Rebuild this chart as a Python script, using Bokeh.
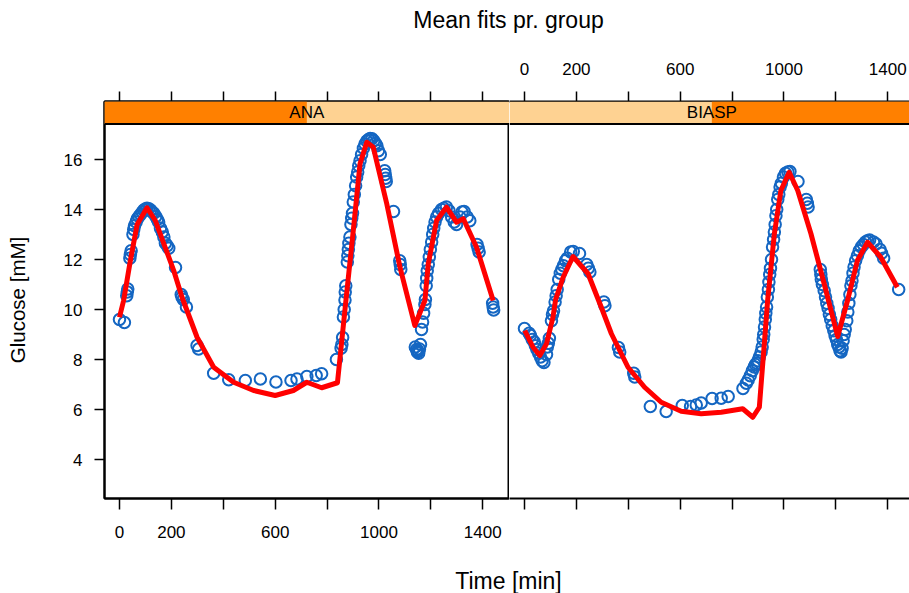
from bokeh.plotting import figure
from bokeh.layouts import column, row
from bokeh.models import Range1d, FixedTicker, LinearAxis, Span, BoxAnnotation, Label
from bokeh.embed import file_html
from bokeh.resources import INLINE

FONT = "Liberation Sans"

# ---------------- data ----------------
groups = ["ANA", "BIASP"]
title_text = "Mean fits pr. group"
x_label = "Time [min]"
y_label = "Glucose [mM]"
x_ticks = [0, 200, 400, 600, 800, 1000, 1200, 1400]
x_tick_labels = ["0", "200", "", "600", "", "1000", "", "1400"]
y_ticks = [4, 6, 8, 10, 12, 14, 16]

ana_time = [0, 19, 28, 30, 32, 40, 42, 45, 52, 55, 58, 64, 68, 75, 81, 88, 94, 100, 106, 113,
            120, 126, 132, 140, 146, 151, 158, 165, 171, 177, 184, 190, 216, 238, 241, 246, 258,
            299, 305, 363, 421, 485, 543, 603, 661, 684, 722, 758, 779, 836, 854, 857, 860, 863,
            866, 869, 870, 872, 878, 880, 882, 884, 888, 892, 895, 898, 901, 905, 910, 914, 918,
            922, 927, 933, 940, 946, 953, 960, 966, 973, 980, 986, 992, 998, 1005, 1022, 1024,
            1026, 1028, 1056, 1080, 1082, 1084, 1140, 1145, 1148, 1150, 1153, 1156, 1160, 1164,
            1168, 1172, 1177, 1179, 1182, 1184, 1186, 1190, 1194, 1198, 1203, 1207, 1211, 1216,
            1222, 1230, 1241, 1250, 1260, 1270, 1280, 1290, 1299, 1312, 1320, 1328, 1340, 1350,
            1378, 1382, 1386, 1438, 1440, 1442]
ana_glucose = [9.60, 9.48, 10.55, 10.70, 10.82, 12.05, 12.20, 12.35, 13.00, 13.20, 13.35, 13.50,
               13.62, 13.72, 13.80, 13.90, 13.98, 14.02, 14.05, 14.03, 13.98, 13.90, 13.85, 13.72,
               13.60, 13.50, 13.25, 13.10, 12.90, 12.65, 12.55, 12.45, 11.68, 10.60, 10.50, 10.40,
               10.10, 8.56, 8.42, 7.45, 7.19, 7.16, 7.22, 7.10, 7.16, 7.22, 7.32, 7.36, 7.43, 8.00,
               8.45, 8.60, 8.88, 9.70, 10.00, 10.38, 10.70, 10.95, 11.90, 12.15, 12.40, 12.65,
               12.90, 13.40, 13.65, 13.85, 14.30, 14.60, 14.95, 15.30, 15.50, 15.75, 15.95, 16.20,
               16.45, 16.62, 16.74, 16.80, 16.84, 16.83, 16.75, 16.65, 16.55, 16.35, 16.20, 15.55,
               15.40, 15.25, 15.12, 13.92, 11.95, 11.80, 11.60, 8.50, 8.40, 8.30, 8.35, 8.25, 8.42,
               8.60, 9.20, 9.50, 9.85, 10.20, 10.40, 10.95, 11.25, 11.55, 11.80, 12.10, 12.40,
               12.70, 13.00, 13.25, 13.50, 13.70, 13.85, 14.00, 14.05, 14.10, 13.95, 13.70, 13.50,
               13.40, 13.70, 13.90, 13.92, 13.70, 13.55, 12.60, 12.45, 12.30, 10.25, 10.10, 9.98]

biasp_time = [0, 18, 23, 30, 38, 42, 48, 55, 62, 68, 75, 85, 88, 92, 96, 104, 108, 112, 118, 122,
              126, 132, 138, 144, 150, 158, 165, 178, 188, 212, 240, 246, 252, 306, 310, 362, 367,
              421, 425, 485, 546, 608, 640, 662, 681, 723, 758, 785, 842, 855, 862, 870, 878, 885,
              890, 896, 900, 905, 912, 916, 920, 922, 925, 928, 930, 933, 936, 940, 942, 945, 948,
              952, 956, 960, 963, 966, 969, 972, 976, 980, 985, 990, 998, 1006, 1015, 1023, 1054,
              1086, 1090, 1093, 1140, 1142, 1144, 1148, 1155, 1160, 1165, 1170, 1175, 1180, 1186,
              1192, 1197, 1202, 1207, 1212, 1216, 1220, 1224, 1228, 1232, 1236, 1242, 1246, 1250,
              1254, 1258, 1262, 1266, 1270, 1276, 1283, 1290, 1298, 1306, 1314, 1322, 1330, 1345,
              1355, 1370, 1376, 1384, 1442]
biasp_glucose = [9.24, 9.05, 8.96, 8.80, 8.70, 8.55, 8.40, 8.25, 8.10, 7.95, 7.88, 8.20, 8.50,
                 8.65, 8.85, 9.55, 9.80, 9.95, 10.30, 10.55, 10.80, 11.20, 11.45, 11.60, 11.75,
                 11.95, 12.05, 12.30, 12.32, 12.24, 11.80, 11.65, 11.50, 10.30, 10.15, 8.48, 8.30,
                 7.45, 7.30, 6.12, 5.92, 6.16, 6.12, 6.18, 6.26, 6.44, 6.45, 6.52, 6.84, 7.05, 7.18,
                 7.35, 7.55, 7.70, 7.80, 7.85, 7.95, 8.10, 8.30, 8.50, 8.80, 9.00, 9.30, 9.60, 9.85,
                 10.10, 10.50, 10.80, 11.10, 11.40, 11.65, 12.00, 12.50, 12.80, 13.10, 13.40, 13.75,
                 14.00, 14.40, 14.60, 14.90, 15.05, 15.30, 15.45, 15.50, 15.52, 15.12, 14.40, 14.25,
                 14.10, 11.60, 11.40, 11.20, 11.00, 10.75, 10.50, 10.25, 10.05, 9.80, 9.60, 9.35,
                 9.15, 8.95, 8.80, 8.60, 8.50, 8.35, 8.30, 8.45, 8.75, 9.00, 9.20, 9.55, 9.90, 10.25,
                 10.60, 10.95, 11.15, 11.45, 11.70, 11.95, 12.15, 12.35, 12.50, 12.60, 12.70, 12.75,
                 12.78, 12.70, 12.62, 12.40, 12.25, 12.05, 10.80]

ana_fit_time = [0, 16, 42, 68, 106, 138, 171, 209, 241, 299, 363, 440, 517, 600, 670, 722, 779,
                840, 872, 901, 927, 953, 978, 1030, 1081, 1138, 1177, 1190, 1222, 1260, 1299,
                1325, 1376, 1440]
ana_fit_glucose = [9.69, 10.36, 11.96, 13.40, 14.07, 13.56, 12.63, 11.56, 10.49, 8.89, 7.69,
                   7.09, 6.76, 6.56, 6.76, 7.09, 6.87, 7.07, 10.30, 13.16, 15.83, 16.69, 16.49,
                   14.23, 11.69, 9.36, 10.36, 11.83, 13.56, 14.09, 13.49, 13.63, 12.49, 10.36]

biasp_fit_time = [1, 33, 59, 85, 110, 120, 149, 187, 245, 296, 335, 354, 399, 463, 527, 604, 681,
                  758, 841, 880, 905, 924, 937, 963, 988, 1020, 1053, 1104, 1155, 1207, 1245,
                  1283, 1322, 1373, 1437]
biasp_fit_glucose = [9.16, 8.49, 8.16, 8.63, 9.70, 10.40, 11.29, 12.12, 11.43, 10.09, 9.03, 8.63,
                     7.69, 6.89, 6.29, 5.93, 5.83, 5.89, 6.03, 5.69, 6.09, 8.60, 10.36, 13.03,
                     14.76, 15.49, 14.76, 13.03, 11.03, 8.92, 10.36, 11.96, 12.69, 12.09, 10.89]

# ---------------- style ----------------
BLUE = "#1466c2"
RED = "#ff0000"
STRIP_LIGHT = "#fed292"
STRIP_DARK = "#ff8000"
X_START = -57.7
PX_PER_UNIT = 0.2595
Y_START, Y_END = 2.44, 18.32
STRIP_BOTTOM = 17.42
STRIP_MID = 722
TICK_FS = "17px"
LINE_W = 2

TOTAL_W = 909
LEFT_BORDER = 104
LEFT_FRAME = 405
LEFT_W = LEFT_BORDER + LEFT_FRAME
RIGHT_W = TOTAL_W - LEFT_W
TITLE_H = 44
MAIN_H = 504
BOTTOM_H = 45
TOP_B, BOT_B = 57, 50


def no_grid(p):
    for g in p.xgrid + p.ygrid:
        g.visible = False


def style_axis(ax, standoff):
    ax.axis_line_color = "black"
    ax.axis_line_width = LINE_W
    ax.major_tick_line_color = "black"
    ax.major_tick_line_width = 1.5
    ax.major_tick_in = 0
    ax.major_tick_out = 10
    ax.minor_tick_line_color = None
    ax.major_label_text_font = FONT
    ax.major_label_text_font_size = TICK_FS
    ax.major_label_text_color = "black"
    ax.major_label_standoff = standoff


def make_panel(idx, t, g, ft, fg, width, frame_w, left_border, show_y, top_labels, bottom_labels):
    x_end = X_START + frame_w / PX_PER_UNIT
    p = figure(width=width, height=MAIN_H, x_range=Range1d(X_START, x_end),
               y_range=Range1d(Y_START, Y_END), output_backend="svg",
               toolbar_location=None, x_axis_location=None, y_axis_location=None,
               min_border_left=left_border, min_border_right=0,
               min_border_top=TOP_B, min_border_bottom=BOT_B)
    no_grid(p)
    p.background_fill_color = "white"
    p.border_fill_color = "white"
    if idx == 0:
        p.outline_line_color = "black"
        p.outline_line_width = LINE_W
    else:
        p.outline_line_color = None

    # strip
    p.add_layout(BoxAnnotation(bottom=STRIP_BOTTOM, fill_color=STRIP_LIGHT, fill_alpha=1,
                               line_color=None))
    if idx == 0:
        p.add_layout(BoxAnnotation(bottom=STRIP_BOTTOM, right=STRIP_MID, fill_color=STRIP_DARK,
                                   fill_alpha=1, line_color=None))
    else:
        p.add_layout(BoxAnnotation(bottom=STRIP_BOTTOM, left=STRIP_MID, fill_color=STRIP_DARK,
                                   fill_alpha=1, line_color=None))
    p.add_layout(Span(location=STRIP_BOTTOM, dimension="width", line_color="black",
                      line_width=LINE_W))
    p.add_layout(Label(x=STRIP_MID, y=(STRIP_BOTTOM + Y_END) / 2, text=groups[idx],
                       text_align="center", text_baseline="middle", text_font=FONT,
                       text_font_size=TICK_FS, text_color="black"))

    # axes
    xb = LinearAxis(ticker=FixedTicker(ticks=x_ticks))
    style_axis(xb, 16)
    xb.major_tick_out = 11
    xb.major_label_overrides = {tk: (lb if bottom_labels else "") for tk, lb in zip(x_ticks, x_tick_labels)}
    p.add_layout(xb, "below")
    xt = LinearAxis(ticker=FixedTicker(ticks=x_ticks))
    style_axis(xt, 17)
    xt.major_label_overrides = {tk: (lb if top_labels else "") for tk, lb in zip(x_ticks, x_tick_labels)}
    p.add_layout(xt, "above")
    if show_y:
        yl = LinearAxis(ticker=FixedTicker(ticks=y_ticks), axis_label=y_label)
        style_axis(yl, 12)
        yl.axis_label_text_font = FONT
        yl.axis_label_text_font_size = "20.5px"
        yl.axis_label_text_font_style = "normal"
        yl.axis_label_text_color = "black"
        yl.axis_label_standoff = 32
        p.add_layout(yl, "left")

    p.scatter(t, g, marker="circle", size=11.5, fill_color=None, line_color=BLUE,
              line_width=2)
    p.line(ft, fg, line_color=RED, line_width=5, line_join="round")
    return p


left = make_panel(0, ana_time, ana_glucose, ana_fit_time, ana_fit_glucose,
                  LEFT_W, LEFT_FRAME, LEFT_BORDER, True, False, True)
right = make_panel(1, biasp_time, biasp_glucose, biasp_fit_time, biasp_fit_glucose,
                   RIGHT_W, RIGHT_W, 0, False, True, False)


def text_fig(h, text, y, fs):
    f = figure(width=TOTAL_W, height=h, x_range=Range1d(0, TOTAL_W), y_range=Range1d(0, h),
               output_backend="svg", toolbar_location=None, x_axis_location=None,
               y_axis_location=None, min_border=0)
    no_grid(f)
    f.outline_line_color = None
    f.background_fill_color = "white"
    f.border_fill_color = "white"
    f.add_layout(Label(x=508, y=y, text=text, text_align="center",
                       text_baseline="middle", text_font=FONT, text_font_size=fs,
                       text_color="black"))
    return f


top = text_fig(TITLE_H, title_text, TITLE_H - 19, "23px")
bottom = text_fig(BOTTOM_H, x_label, BOTTOM_H - 32, "23px")

layout = column(top, row(left, right), bottom)
open("out.html", "w").write(file_html(layout, INLINE))
